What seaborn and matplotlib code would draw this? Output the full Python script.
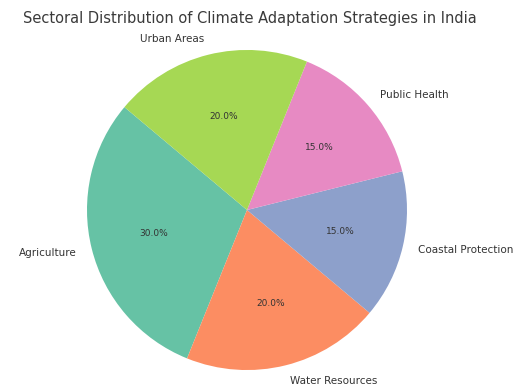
import matplotlib
matplotlib.use("Agg")
import matplotlib.pyplot as plt
import seaborn as sns

sectors = ["Agriculture", "Water Resources", "Coastal Protection", "Public Health", "Urban Areas"]
shares = [30, 20, 15, 15, 20]

sns.set_theme(style="white")
colors = sns.color_palette("Set2", len(sectors))

fig = plt.figure(figsize=(5.26, 3.91), dpi=100)
ax = fig.add_axes([0, 0, 1, 362 / 391])
wedges, texts, autotexts = ax.pie(
    shares, labels=sectors, colors=colors, autopct="%1.1f%%",
    startangle=140, wedgeprops={"linewidth": 0},
    textprops={"fontsize": 7.5, "color": "#333333"},
)
for t in autotexts:
    t.set_fontsize(6.5)
ax.set_aspect("auto")
ax.set_ylim(-1.131, 1.131)
ax.set_xlim(-247 / 160, 279 / 160)
fig.text(249.5 / 526, 1 - 18 / 391,
         "Sectoral Distribution of Climate Adaptation Strategies in India",
         fontsize=10.55, color="#3a3a3a", ha="center", va="center")
fig.savefig("out.png", dpi=100)
